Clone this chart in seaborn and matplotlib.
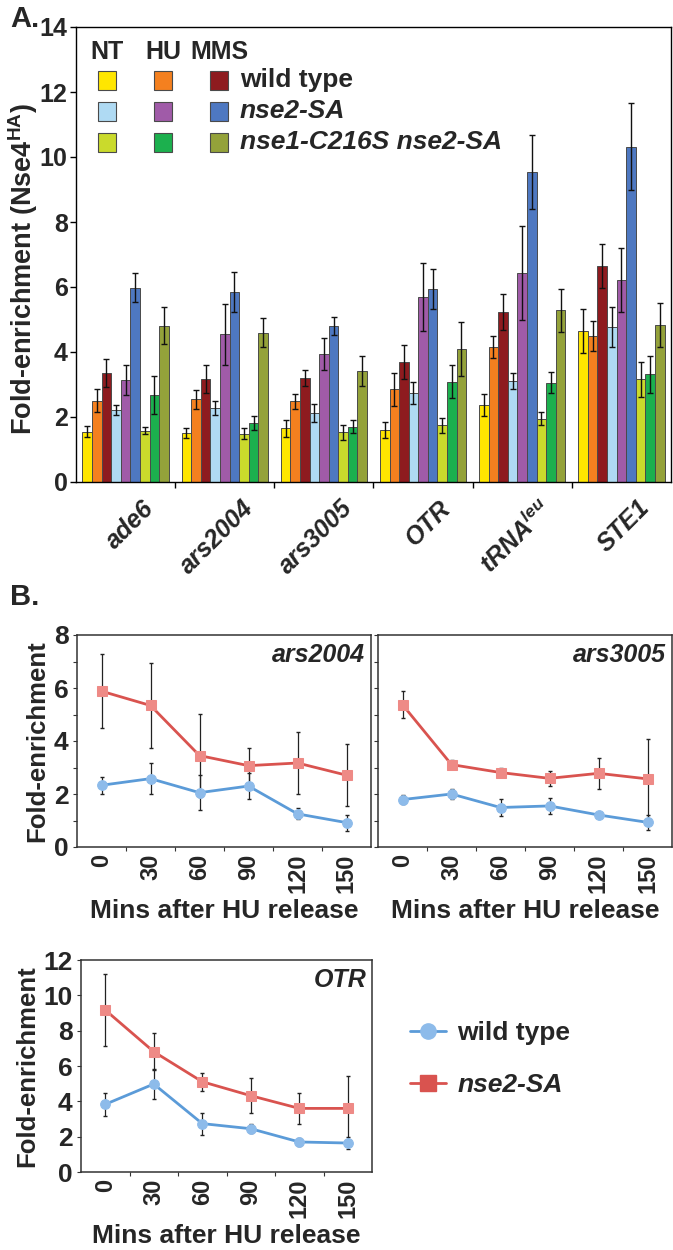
import numpy as np
import pandas as pd
import matplotlib
matplotlib.use("Agg")
import matplotlib.pyplot as plt
import matplotlib.transforms as mtrans
import seaborn as sns
from matplotlib.patches import Rectangle
from matplotlib.lines import Line2D
from matplotlib.ticker import MultipleLocator, FixedLocator

# ---------------- data: panel A ----------------
loci = ["ade6", "ars2004", "ars3005", "OTR", "tRNA$^{leu}$", "STE1"]
conditions = ["NT wild type", "HU wild type", "MMS wild type",
              "NT nse2-SA", "HU nse2-SA", "MMS nse2-SA",
              "NT nse1-C216S nse2-SA", "HU nse1-C216S nse2-SA", "MMS nse1-C216S nse2-SA"]
bar_colors = ["#FFE600", "#F4801F", "#8E1B1F",
              "#AFDAF3", "#A05BA8", "#4E78C1",
              "#CADA2C", "#1CB04E", "#94A23A"]

nt_wt = [1.55, 1.50, 1.65, 1.59, 2.37, 4.65]
hu_wt = [2.50, 2.54, 2.48, 2.85, 4.14, 4.49]
mms_wt = [3.35, 3.17, 3.19, 3.69, 5.22, 6.64]
nt_sa = [2.22, 2.27, 2.13, 2.75, 3.11, 4.76]
hu_sa = [3.13, 4.55, 3.94, 5.69, 6.43, 6.22]
mms_sa = [5.98, 5.85, 4.79, 5.93, 9.53, 10.32]
nt_dbl = [1.58, 1.49, 1.53, 1.74, 1.95, 3.16]
hu_dbl = [2.68, 1.82, 1.70, 3.08, 3.06, 3.31]
mms_dbl = [4.81, 4.59, 3.41, 4.08, 5.28, 4.82]

nt_wt_err = [0.17, 0.15, 0.27, 0.25, 0.33, 0.68]
hu_wt_err = [0.36, 0.29, 0.24, 0.51, 0.34, 0.46]
mms_wt_err = [0.43, 0.43, 0.25, 0.53, 0.55, 0.67]
nt_sa_err = [0.15, 0.21, 0.27, 0.34, 0.25, 0.62]
hu_sa_err = [0.46, 0.94, 0.48, 1.05, 1.46, 0.98]
mms_sa_err = [0.45, 0.62, 0.28, 0.62, 1.14, 1.33]
nt_dbl_err = [0.11, 0.17, 0.23, 0.23, 0.20, 0.54]
hu_dbl_err = [0.59, 0.21, 0.20, 0.51, 0.33, 0.57]
mms_dbl_err = [0.56, 0.45, 0.46, 0.83, 0.67, 0.68]

a_yticks = [0, 2, 4, 6, 8, 10, 12, 14]

# ---------------- data: panel B ----------------
times = ["0", "30", "60", "90", "120", "150"]
strains = ["wild type", "nse2-SA"]
ars2004_wt = [2.33, 2.58, 2.05, 2.30, 1.25, 0.92]
ars2004_wt_err = [0.32, 0.59, 0.66, 0.50, 0.21, 0.30]
ars2004_sa = [5.88, 5.34, 3.45, 3.07, 3.17, 2.71]
ars2004_sa_err = [1.40, 1.59, 1.56, 0.67, 1.17, 1.16]
ars3005_wt = [1.79, 2.00, 1.49, 1.55, 1.21, 0.93]
ars3005_wt_err = [0.16, 0.20, 0.31, 0.30, 0.08, 0.29]
ars3005_sa = [5.37, 3.11, 2.81, 2.59, 2.78, 2.57]
ars3005_sa_err = [0.52, 0.18, 0.18, 0.29, 0.59, 1.52]
otr_wt = [3.83, 4.98, 2.74, 2.45, 1.70, 1.64]
otr_wt_err = [0.66, 0.87, 0.62, 0.27, 0.20, 0.32]
otr_sa = [9.17, 6.81, 5.11, 4.32, 3.60, 3.60]
otr_sa_err = [2.04, 1.04, 0.52, 0.98, 0.90, 1.83]
line_colors = ["#5B9BD8", "#D9534F"]
marker_colors = ["#8DBBEA", "#EE8A86"]

# ---------------- style ----------------
sns.set_theme(style="white")
plt.rcParams["font.family"] = ["Liberation Sans", "DejaVu Sans"]
plt.rcParams["font.weight"] = "bold"
plt.rcParams["mathtext.fontset"] = "custom"
plt.rcParams["mathtext.it"] = "Liberation Sans:italic:bold"
plt.rcParams["mathtext.rm"] = "Liberation Sans:bold"
plt.rcParams["mathtext.bf"] = "Liberation Sans:bold"

W, H = 673, 1250
fig = plt.figure(figsize=(W / 100, H / 100), dpi=100)


def px_axes(l, t, r, b):
    return fig.add_axes([l / W, 1 - b / H, (r - l) / W, (b - t) / H])


# ================= Panel A =================
A_L, A_T, A_R, A_B = 76, 27, 671, 482
axA = px_axes(A_L, A_T, A_R, A_B)
series = [nt_wt, hu_wt, mms_wt, nt_sa, hu_sa, mms_sa, nt_dbl, hu_dbl, mms_dbl]
errs = [nt_wt_err, hu_wt_err, mms_wt_err, nt_sa_err, hu_sa_err, mms_sa_err,
        nt_dbl_err, hu_dbl_err, mms_dbl_err]
rows = []
for cond, vals, ers in zip(conditions, series, errs):
    for loc, v, e in zip(loci, vals, ers):
        rows.append({"locus": loc, "condition": cond, "value": v, "err": e})
dfA = pd.DataFrame(rows)

sns.barplot(data=dfA, x="locus", y="value", hue="condition", order=loci,
            hue_order=conditions, palette=bar_colors, saturation=1,
            width=0.87, errorbar=None, edgecolor="#4a4a4a", linewidth=0.7,
            legend=False, ax=axA)
for cont, cond in zip(axA.containers, conditions):
    sub = dfA[dfA.condition == cond].set_index("locus").loc[loci]
    xs = [p.get_x() + p.get_width() / 2 for p in cont.patches]
    axA.errorbar(xs, sub["value"].values, yerr=sub["err"].values, fmt="none",
                 ecolor="#111111", elinewidth=1.0, capsize=2.5, capthick=1.0,
                 zorder=5)

axA.set_ylim(0, 14)
axA.set_xlim(-0.5, len(loci) - 0.5)
axA.set_yticks(a_yticks)
axA.set_yticklabels([str(t) for t in a_yticks], fontsize=18, fontweight="bold")
axA.set_xticks(range(len(loci)))
axA.set_xticklabels(loci, fontsize=18, fontweight="bold", fontstyle="italic",
                    rotation=45, ha="right", rotation_mode="anchor")
axA.xaxis.set_minor_locator(FixedLocator(np.arange(0.5, len(loci) - 0.5, 1)))
axA.tick_params(axis="x", which="major", length=0, pad=10)
axA.tick_params(axis="x", which="minor", length=4, width=1, direction="out",
                bottom=True, color="black")
axA.tick_params(axis="y", which="major", length=4, width=1, direction="out",
                left=True, color="black", pad=2)
offset = mtrans.ScaledTranslation(16 / 100, 0, fig.dpi_scale_trans)
for lab in axA.get_xticklabels():
    lab.set_transform(lab.get_transform() + offset)
axA.set_xlabel("")
axA.set_ylabel("Fold-enrichment (Nse4$^{\\mathrm{HA}}$)", fontsize=19.5,
               fontweight="bold")
axA.yaxis.set_label_coords(-(76 - 40) / (A_R - A_L), 1 - (269 - A_T) / (A_B - A_T))
for s in axA.spines.values():
    s.set_visible(True)
    s.set_color("black")
    s.set_linewidth(1.0)


def ax_frac(px, py):
    return (px - A_L) / (A_R - A_L), 1 - (py - A_T) / (A_B - A_T)


hdr_y = 52
for lab, cx in zip(["NT", "HU", "MMS"], [107, 163, 219]):
    fx, fy = ax_frac(cx, hdr_y)
    axA.text(fx, fy, lab, transform=axA.transAxes, ha="center", va="center",
             fontsize=18, fontweight="bold")
row_y = [80, 111, 142]
col_x = [107, 163, 219]
strain_labels = ["wild type", "nse2-SA", "nse1-C216S nse2-SA"]
for r in range(3):
    for c in range(3):
        color = bar_colors[r * 3 + c]
        x0, y0 = ax_frac(col_x[c] - 9, row_y[r] + 9.5)
        x1, y1 = ax_frac(col_x[c] + 9, row_y[r] - 9.5)
        axA.add_patch(Rectangle((x0, y0), x1 - x0, y1 - y0, transform=axA.transAxes,
                                facecolor=color, edgecolor="#4a4a4a", lw=0.8,
                                zorder=6))
    fx, fy = ax_frac(240, row_y[r])
    axA.text(fx, fy, strain_labels[r], transform=axA.transAxes, ha="left",
             va="center", fontsize=19, fontweight="bold",
             fontstyle="normal" if r == 0 else "italic")

fig.text(10 / W, 1 - 19 / H, "A.", fontsize=21, fontweight="bold", va="center", ha="left")
fig.text(10 / W, 1 - 597 / H, "B.", fontsize=21, fontweight="bold", va="center", ha="left")

# ================= Panel B =================
def line_panel(ax, wt, wt_err, sa, sa_err, ymax, title, show_ylabels, minor):
    dfB = pd.DataFrame({
        "time": times * 2,
        "strain": [strains[0]] * len(times) + [strains[1]] * len(times),
        "value": wt + sa,
    })
    for vals, ers in [(wt, wt_err), (sa, sa_err)]:
        ax.errorbar(range(len(times)), vals, yerr=ers, fmt="none",
                    ecolor="#222222", elinewidth=0.9, capsize=1.5, zorder=1)
    sns.lineplot(data=dfB, x="time", y="value", hue="strain", style="strain",
                 hue_order=strains, style_order=strains, palette=line_colors,
                 markers=["o", "s"], dashes=False, markersize=7, linewidth=2,
                 legend=False, ax=ax, zorder=3)
    for ln, mc in zip(ax.lines[-2:], marker_colors):
        ln.set_markerfacecolor(mc)
        ln.set_markeredgecolor(mc)
    ax.set_xlim(-0.5, len(times) - 0.5)
    ax.set_ylim(0, ymax)
    ax.set_yticks(np.arange(0, ymax + 1, 2))
    if minor:
        ax.yaxis.set_minor_locator(MultipleLocator(1))
    ax.tick_params(axis="y", which="both", direction="out", length=3, width=0.8,
                   left=True, color="#333333", labelsize=19, pad=3)
    if not show_ylabels:
        ax.tick_params(axis="y", labelleft=False)
    else:
        for lab in ax.get_yticklabels():
            lab.set_fontweight("bold")
    ax.set_xticks(range(len(times)))
    ax.set_xticklabels(times, rotation=90, fontsize=17, fontweight="bold")
    ax.xaxis.set_minor_locator(FixedLocator(np.arange(0.5, len(times) - 0.5, 1)))
    ax.tick_params(axis="x", which="major", length=0, pad=5)
    ax.tick_params(axis="x", which="minor", length=3, width=0.8, direction="out",
                   bottom=True, color="#333333")
    ax.set_xlabel("Mins after HU release", fontsize=19, fontweight="bold", labelpad=4)
    if show_ylabels:
        ax.set_ylabel("Fold-enrichment", fontsize=18.5, fontweight="bold", labelpad=3)
    else:
        ax.set_ylabel("")
    ax.text(0.98, 0.96, title, transform=ax.transAxes, ha="right", va="top",
            fontsize=18, fontweight="bold", fontstyle="italic")
    for s in ax.spines.values():
        s.set_visible(True)
        s.set_color("#333333")
        s.set_linewidth(1.1)


ax1 = px_axes(77, 635, 371, 847)
line_panel(ax1, ars2004_wt, ars2004_wt_err, ars2004_sa, ars2004_sa_err, 8,
           "ars2004", True, True)
ax2 = px_axes(378, 635, 672, 847)
line_panel(ax2, ars3005_wt, ars3005_wt_err, ars3005_sa, ars3005_sa_err, 8,
           "ars3005", False, True)
ax3 = px_axes(81, 960, 372, 1172)
line_panel(ax3, otr_wt, otr_wt_err, otr_sa, otr_sa_err, 12, "OTR", True, False)

handles = [Line2D([0], [0], color=line_colors[0], lw=2, marker="o", markersize=11,
                  markerfacecolor=marker_colors[0], markeredgecolor=marker_colors[0]),
           Line2D([0], [0], color=line_colors[1], lw=2, marker="s", markersize=11,
                  markerfacecolor=line_colors[1], markeredgecolor=line_colors[1])]
leg = fig.legend(handles, ["wild type", "nse2-SA"], loc="center left",
                 bbox_to_anchor=(410 / W, 1 - 1059 / H), frameon=False,
                 fontsize=19, handlelength=1.35, labelspacing=1.05,
                 handletextpad=0.45, borderpad=0, borderaxespad=0)
for t, st in zip(leg.get_texts(), ["normal", "italic"]):
    t.set_fontweight("bold")
    t.set_fontstyle(st)

fig.savefig("out.png", dpi=100)
